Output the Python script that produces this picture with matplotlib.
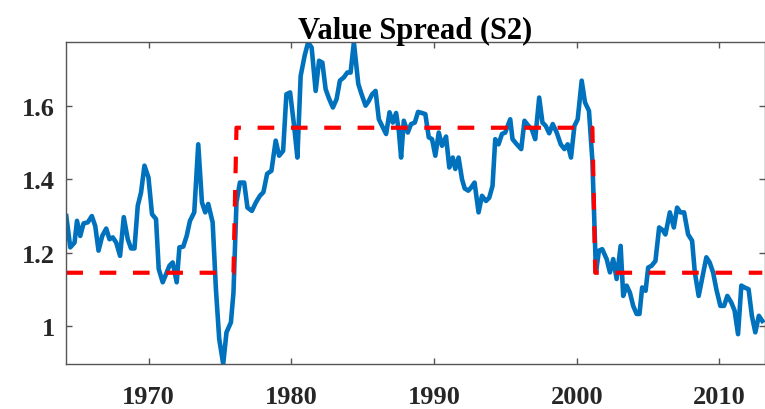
import matplotlib
matplotlib.use("Agg")
import matplotlib.pyplot as plt

plt.rcParams['font.family'] = ['Liberation Serif', 'DejaVu Serif']
plt.rcParams['font.weight'] = 'bold'

# value spread, quarterly
years = [1964.22, 1964.50, 1964.80, 1964.97, 1965.20, 1965.43, 1965.73, 1966.01, 1966.25, 1966.48,
         1966.74, 1967.02, 1967.25, 1967.48, 1967.72, 1967.99, 1968.25, 1968.53, 1968.76, 1969.00,
         1969.23, 1969.46, 1969.70, 1969.98, 1970.23, 1970.51, 1970.70, 1970.98,
         1971.21, 1971.45, 1971.68, 1971.96, 1972.15, 1972.42, 1972.66, 1972.89, 1973.19, 1973.47,
         1973.73, 1973.96, 1974.17, 1974.48, 1974.71, 1974.94, 1975.22, 1975.45, 1975.76, 1975.94,
         1976.15, 1976.39, 1976.69, 1976.92, 1977.23, 1977.51, 1977.79,
         1978.04, 1978.30, 1978.60, 1978.90, 1979.14, 1979.42, 1979.65, 1979.91, 1980.19, 1980.42,
         1980.65, 1980.93, 1981.17, 1981.42, 1981.70, 1981.94, 1982.17, 1982.40, 1982.63, 1982.91,
         1983.17, 1983.40, 1983.68, 1983.92, 1984.15, 1984.38, 1984.69, 1984.92,
         1985.20, 1985.43, 1985.66, 1985.90, 1986.13, 1986.41, 1986.64, 1986.88, 1987.11, 1987.34,
         1987.53, 1987.69, 1987.88, 1988.16, 1988.39, 1988.65, 1988.88, 1989.16, 1989.39, 1989.63,
         1989.86, 1990.09, 1990.33, 1990.56, 1990.84, 1991.07, 1991.31, 1991.49, 1991.72, 1991.96,
         1992.15, 1992.40, 1992.61, 1992.84, 1993.12, 1993.36, 1993.64, 1993.87, 1994.10, 1994.29,
         1994.52, 1994.76, 1994.99, 1995.34, 1995.50, 1995.80, 1996.11, 1996.34, 1996.62, 1996.85,
         1997.09, 1997.37, 1997.60, 1997.83, 1998.07, 1998.32, 1998.60, 1998.88,
         1999.14, 1999.37, 1999.60, 1999.84, 2000.07, 2000.35, 2000.58, 2000.86, 2001.10, 2001.35,
         2001.56, 2001.79, 2002.10, 2002.33, 2002.56, 2002.80, 2003.08, 2003.26, 2003.50, 2003.73,
         2003.96, 2004.20, 2004.40, 2004.59, 2004.83, 2005.01, 2005.25, 2005.52, 2005.78,
         2006.02, 2006.22, 2006.53, 2006.81, 2007.04, 2007.27, 2007.53, 2007.81, 2008.09, 2008.28,
         2008.55, 2008.79, 2009.09, 2009.32, 2009.56, 2009.79, 2010.07, 2010.33, 2010.56, 2010.84,
         2011.07, 2011.31, 2011.54, 2011.77, 2012.05, 2012.28, 2012.52, 2012.77, 2013.01]
spread = [1.300, 1.215, 1.228, 1.287, 1.246, 1.280, 1.283, 1.300, 1.273, 1.206,
          1.246, 1.266, 1.237, 1.242, 1.228, 1.192, 1.297, 1.237, 1.212, 1.212,
          1.328, 1.364, 1.437, 1.405, 1.305, 1.292, 1.156, 1.120,
          1.142, 1.165, 1.174, 1.120, 1.215, 1.217, 1.246, 1.287, 1.310, 1.495,
          1.337, 1.310, 1.333, 1.283, 1.101, 0.966, 0.898, 0.984, 1.011, 1.092,
          1.337, 1.391, 1.391, 1.323, 1.314, 1.337, 1.355,
          1.365, 1.415, 1.423, 1.505, 1.464, 1.477, 1.631, 1.636, 1.545, 1.459,
          1.681, 1.736, 1.772, 1.758, 1.640, 1.722, 1.717, 1.645, 1.620, 1.595,
          1.618, 1.668, 1.677, 1.690, 1.690, 1.772, 1.659, 1.631,
          1.600, 1.613, 1.631, 1.640, 1.563, 1.541, 1.523, 1.582, 1.554, 1.580,
          1.532, 1.459, 1.559, 1.527, 1.550, 1.554, 1.583, 1.580, 1.577, 1.514,
          1.509, 1.464, 1.527, 1.491, 1.516, 1.432, 1.459, 1.428, 1.459, 1.400,
          1.375, 1.369, 1.378, 1.391, 1.310, 1.355, 1.341, 1.350, 1.382, 1.509,
          1.495, 1.523, 1.527, 1.563, 1.509, 1.495, 1.482, 1.559, 1.545, 1.536,
          1.509, 1.622, 1.554, 1.545, 1.525, 1.550, 1.527, 1.495,
          1.482, 1.495, 1.459, 1.545, 1.563, 1.668, 1.609, 1.586, 1.450, 1.147,
          1.206, 1.210, 1.183, 1.147, 1.183, 1.129, 1.219, 1.083, 1.111, 1.092,
          1.056, 1.034, 1.034, 1.106, 1.097, 1.160, 1.165, 1.178, 1.269,
          1.262, 1.250, 1.310, 1.269, 1.323, 1.310, 1.310, 1.250, 1.233, 1.147,
          1.083, 1.129, 1.188, 1.174, 1.147, 1.101, 1.056, 1.056, 1.083, 1.065,
          1.043, 0.979, 1.111, 1.106, 1.101, 1.029, 0.984, 1.029, 1.015]

# regime means (step)
regime_years = [1964.22, 1975.94, 1976.15, 2001.10, 2001.30, 2013.01]
regime_vals = [1.146, 1.146, 1.540, 1.540, 1.146, 1.146]

fig = plt.figure(figsize=(7.65, 4.10), dpi=100)
ax = fig.add_axes([66/765, 1 - 365/410, 1 - 66/765, (365 - 43)/410])

ax.plot(years, spread, color='#0072BD', lw=3.3, solid_joinstyle='round')
ax.plot(regime_years, regime_vals, color='#FF0000', lw=3.0, dashes=(4, 4))

ax.set_xlim(1964.2, 2013.2)
ax.set_ylim(0.898, 1.773)
ax.set_xticks([1970, 1980, 1990, 2000, 2010])
ax.set_yticks([1.0, 1.2, 1.4, 1.6])
ax.set_yticklabels(['1', '1.2', '1.4', '1.6'])

for s in ax.spines.values():
    s.set_color('#555555')
    s.set_linewidth(1.0)
ax.tick_params(direction='in', length=4.5, width=1.0, color='#555555',
               top=True, right=True, labelsize=19, labelcolor='#262626')
ax.tick_params(axis='x', pad=15)
ax.tick_params(axis='y', pad=8)

ax.set_title('Value Spread (S2)', fontsize=22, fontweight='bold', color='black', pad=3)

fig.savefig('out.png', dpi=100)
